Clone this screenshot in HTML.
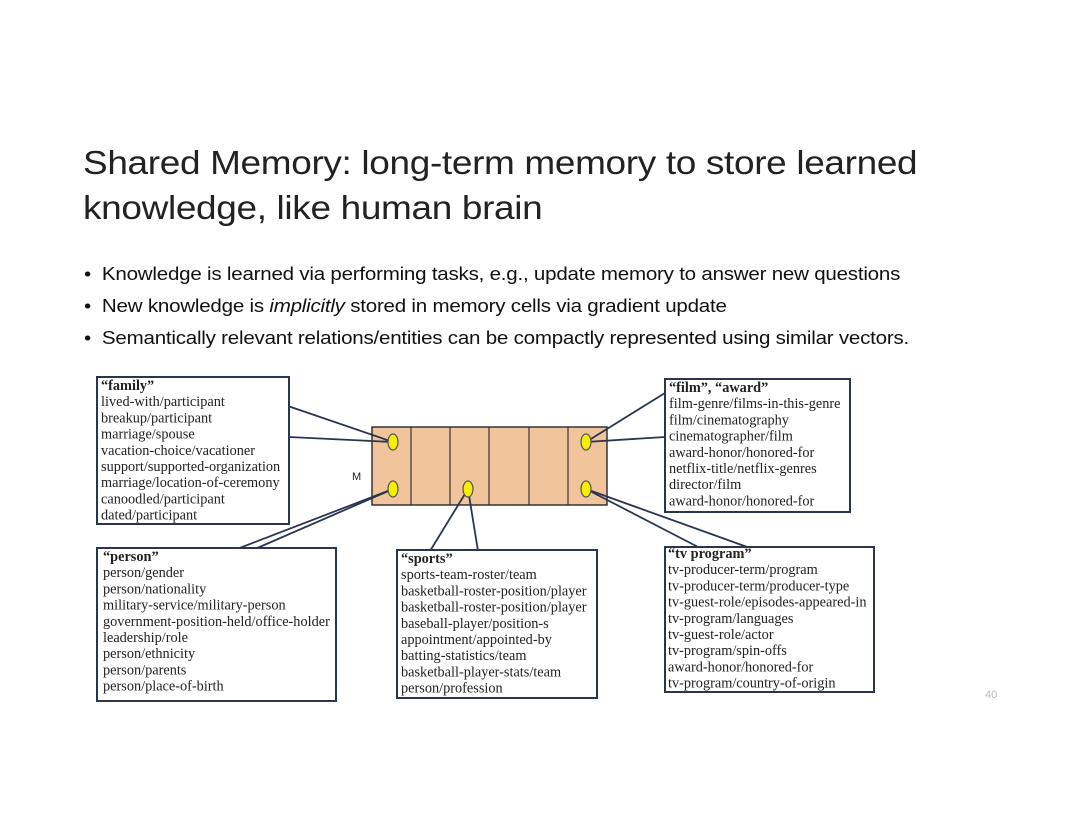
<html><body style="margin:0;width:1080px;height:835px;background:#fff;overflow:hidden;position:relative;font-family:'Liberation Sans',sans-serif">
<div style="position:absolute;left:83px;top:140px;font-size:33px;line-height:45px;color:#222;letter-spacing:-0.3px;transform:scaleX(1.12);transform-origin:0 0;white-space:nowrap">Shared Memory: long-term memory to store learned<br>knowledge, like human brain</div>
<div style="position:absolute;left:84px;top:258px;font-size:18.5px;line-height:32px;color:#111;letter-spacing:-0.2px;transform:scaleX(1.11);transform-origin:0 0;white-space:nowrap">
<div>• &nbsp;Knowledge is learned via performing tasks, e.g., update memory to answer new questions</div>
<div>• &nbsp;New knowledge is <i>implicitly</i> stored in memory cells via gradient update</div>
<div>• &nbsp;Semantically relevant relations/entities can be compactly represented using similar vectors.</div>
</div>
<svg width="1080" height="835" style="position:absolute;left:0;top:0" font-family="Liberation Serif, serif" font-size="14.3" fill="#222">
<rect x="372" y="427" width="235" height="78" fill="#f2c49c" stroke="#333" stroke-width="1.5"/>
<g stroke="#333" stroke-width="1.2"><line x1="411" y1="427" x2="411" y2="505"/><line x1="450" y1="427" x2="450" y2="505"/><line x1="489" y1="427" x2="489" y2="505"/><line x1="529" y1="427" x2="529" y2="505"/><line x1="568" y1="427" x2="568" y2="505"/></g>
<text x="352" y="480" font-family="Liberation Sans, sans-serif" font-size="11">M</text>
<g stroke="#2a3550" stroke-width="1.8" fill="none">
<line x1="285" y1="405" x2="393" y2="442"/><polyline points="289,437 393,442"/>
<line x1="237" y1="549" x2="393" y2="489"/><line x1="255" y1="549" x2="393" y2="489"/>
<line x1="430" y1="551" x2="468" y2="489"/><line x1="478" y1="551" x2="468" y2="489"/>
<line x1="665" y1="393" x2="586" y2="442"/><line x1="665" y1="437" x2="586" y2="442"/>
<line x1="700" y1="548" x2="586" y2="489"/><line x1="750" y1="548" x2="586" y2="489"/>
</g>
<g fill="#f5f000" stroke="#555" stroke-width="1.2">
<ellipse cx="393" cy="442" rx="5" ry="8"/><ellipse cx="586" cy="442" rx="5" ry="8"/><ellipse cx="393" cy="489" rx="5" ry="8"/><ellipse cx="468" cy="489" rx="5" ry="8"/><ellipse cx="586" cy="489" rx="5" ry="8"/>
</g>
<g fill="#fff" stroke="#2a3550" stroke-width="2">
<rect x="97" y="377" width="192" height="147"/><rect x="665" y="379" width="185" height="133"/>
<rect x="97" y="548" width="239" height="153"/><rect x="397" y="550" width="200" height="148"/><rect x="665" y="547" width="209" height="145"/>
</g>
<text x="101" y="390"><tspan font-weight="bold">“family”</tspan><tspan x="101" dy="16.2">lived-with/participant</tspan><tspan x="101" dy="16.2">breakup/participant</tspan><tspan x="101" dy="16.2">marriage/spouse</tspan><tspan x="101" dy="16.2">vacation-choice/vacationer</tspan><tspan x="101" dy="16.2">support/supported-organization</tspan><tspan x="101" dy="16.2">marriage/location-of-ceremony</tspan><tspan x="101" dy="16.2">canoodled/participant</tspan><tspan x="101" dy="16.2">dated/participant</tspan></text>
<text x="669" y="392"><tspan font-weight="bold">“film”, “award”</tspan><tspan x="669" dy="16.2">film-genre/films-in-this-genre</tspan><tspan x="669" dy="16.2">film/cinematography</tspan><tspan x="669" dy="16.2">cinematographer/film</tspan><tspan x="669" dy="16.2">award-honor/honored-for</tspan><tspan x="669" dy="16.2">netflix-title/netflix-genres</tspan><tspan x="669" dy="16.2">director/film</tspan><tspan x="669" dy="16.2">award-honor/honored-for</tspan></text>
<text x="103" y="561"><tspan font-weight="bold">“person”</tspan><tspan x="103" dy="16.2">person/gender</tspan><tspan x="103" dy="16.2">person/nationality</tspan><tspan x="103" dy="16.2">military-service/military-person</tspan><tspan x="103" dy="16.2">government-position-held/office-holder</tspan><tspan x="103" dy="16.2">leadership/role</tspan><tspan x="103" dy="16.2">person/ethnicity</tspan><tspan x="103" dy="16.2">person/parents</tspan><tspan x="103" dy="16.2">person/place-of-birth</tspan></text>
<text x="401" y="563"><tspan font-weight="bold">“sports”</tspan><tspan x="401" dy="16.2">sports-team-roster/team</tspan><tspan x="401" dy="16.2">basketball-roster-position/player</tspan><tspan x="401" dy="16.2">basketball-roster-position/player</tspan><tspan x="401" dy="16.2">baseball-player/position-s</tspan><tspan x="401" dy="16.2">appointment/appointed-by</tspan><tspan x="401" dy="16.2">batting-statistics/team</tspan><tspan x="401" dy="16.2">basketball-player-stats/team</tspan><tspan x="401" dy="16.2">person/profession</tspan></text>
<text x="668" y="558"><tspan font-weight="bold">“tv program”</tspan><tspan x="668" dy="16.2">tv-producer-term/program</tspan><tspan x="668" dy="16.2">tv-producer-term/producer-type</tspan><tspan x="668" dy="16.2">tv-guest-role/episodes-appeared-in</tspan><tspan x="668" dy="16.2">tv-program/languages</tspan><tspan x="668" dy="16.2">tv-guest-role/actor</tspan><tspan x="668" dy="16.2">tv-program/spin-offs</tspan><tspan x="668" dy="16.2">award-honor/honored-for</tspan><tspan x="668" dy="16.2">tv-program/country-of-origin</tspan></text>
<text x="985" y="698" font-family="Liberation Sans, sans-serif" font-size="11" fill="#bbb">40</text>
</svg>
</body></html>
